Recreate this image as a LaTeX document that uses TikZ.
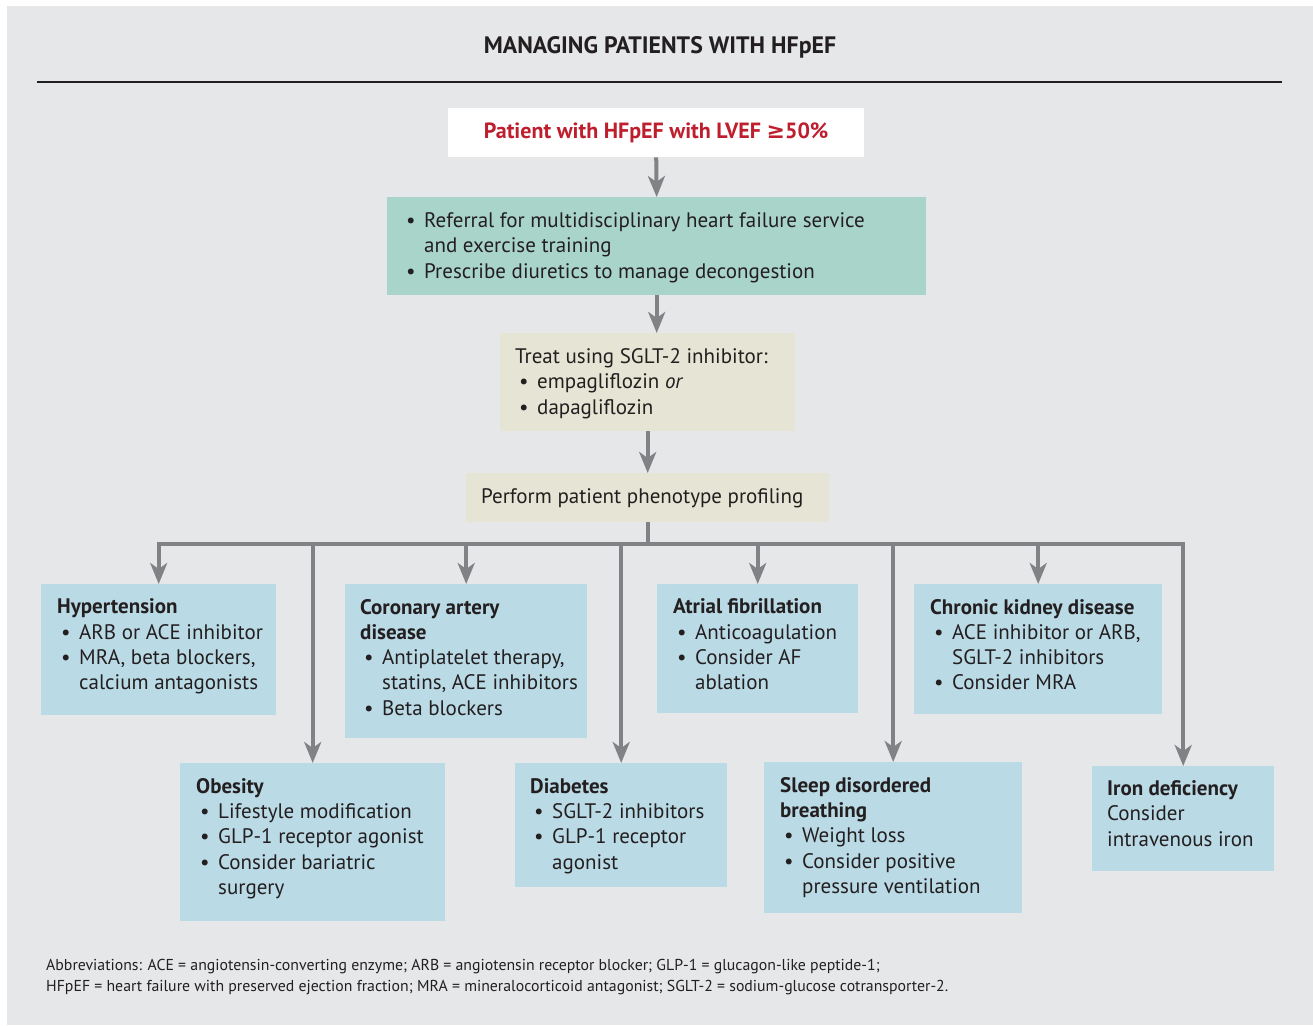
\documentclass[tikz,border=0pt]{standalone}
\usepackage{fontspec}
\setmainfont{PT Sans}
\newfontfamily\symfont{DejaVu Sans}
\usetikzlibrary{arrows.meta}

\definecolor{panelgray}{HTML}{E6E7E9}
\definecolor{boxblue}{HTML}{BADAE6}
\definecolor{boxgreen}{HTML}{A9D4CA}
\definecolor{boxbeige}{HTML}{E6E4D4}
\definecolor{hfred}{HTML}{BE1E2D}
\definecolor{inkdark}{HTML}{231F20}
\definecolor{arrowgray}{HTML}{808285}

\newcommand{\bul}{\makebox[22pt][l]{\hspace{4pt}\textbullet}}
\newcommand{\ind}{\hspace*{22pt}}

\tikzset{
  box/.style={anchor=north west, inner sep=0pt, draw=none},
  bluebox/.style={box, fill=boxblue},
  boxtext/.style={anchor=north west, inner sep=0pt, align=left, text=inkdark,
    font=\fontsize{21}{25.3}\selectfont, execute at begin node=\strut},
  conn/.style={draw=arrowgray, line width=4pt},
  arr/.style={conn, -{Stealth[length=21pt, width=17pt, inset=6pt]}}
}

\begin{document}
\begin{tikzpicture}[x=1pt, y=-1pt]
    \useasboundingbox (0,0) rectangle (1313,1025);
    \fill[white] (0,0) rectangle (1313,1025);
    \fill[panelgray] (7,6) rectangle (1313,1025);

    % Title
    \node[anchor=base, inner sep=0pt, text=inkdark, font=\bfseries\fontsize{23.8}{27}\selectfont] (title) at (660,53) {MANAGING PATIENTS WITH HFpEF};
    \draw[inkdark, line width=1.6pt] (37,82) -- (1282,82);

    % Patient
    \node[box, fill=white, minimum width=416, minimum height=49] (pat) at (448,108) {};
    \node[inner sep=0pt, text=hfred, font=\bfseries\fontsize{22}{26}\selectfont] (pat-t) at (pat.center) {Patient with HFpEF with LVEF {\symfont\bfseries ≥}50\%};

    % Referral
    \node[box, fill=boxgreen, minimum width=539, minimum height=98] (ref) at (387,197) {};
    \node[boxtext] (ref-t) at ([shift={(15,15.5)}]ref.north west) {\bul Referral for multidisciplinary heart failure service\\
      \ind and exercise training\\
      \bul Prescribe diuretics to manage decongestion};

    % SGLT-2
    \node[box, fill=boxbeige, minimum width=295, minimum height=98] (sglt) at (500,333) {};
    \node[boxtext] (sglt-t) at ([shift={(15,15.5)}]sglt.north west) {Treat using SGLT-2 inhibitor:\\
      \bul empagliflozin \emph{or}\\
      \bul dapagliflozin};

    % Phenotype
    \node[box, fill=boxbeige, minimum width=363, minimum height=49] (pheno) at (466,473) {};
    \node[boxtext] (pheno-t) at ([shift={(15,12.8)}]pheno.north west) {Perform patient phenotype profiling};

    % Phenotypes, top row
    \node[bluebox, minimum width=235, minimum height=131] (htn) at (41,584) {};
    \node[boxtext] (htn-t) at ([shift={(16,14.8)}]htn.north west) {\textbf{Hypertension}\\
      \bul ARB or ACE inhibitor\\
      \bul MRA, beta blockers,\\
      \ind calcium antagonists};

    \node[bluebox, minimum width=242, minimum height=154] (cad) at (345,584) {};
    \node[boxtext] (cad-t) at ([shift={(15,14.8)}]cad.north west) {\textbf{Coronary artery}\\
      \textbf{disease}\\
      \bul Antiplatelet therapy,\\
      \ind statins, ACE inhibitors\\
      \bul Beta blockers};

    \node[bluebox, minimum width=201, minimum height=129] (af) at (657,584) {};
    \node[boxtext] (af-t) at ([shift={(16,14.8)}]af.north west) {\textbf{Atrial fibrillation}\\
      \bul Anticoagulation\\
      \bul Consider AF\\
      \ind ablation};

    \node[bluebox, minimum width=248, minimum height=130] (ckd) at (914,584) {};
    \node[boxtext] (ckd-t) at ([shift={(16,14.8)}]ckd.north west) {\textbf{Chronic kidney disease}\\
      \bul ACE inhibitor or ARB,\\
      \ind SGLT-2 inhibitors\\
      \bul Consider MRA};

    % Phenotypes, bottom row
    \node[bluebox, minimum width=265, minimum height=158] (obe) at (180,763) {};
    \node[boxtext] (obe-t) at ([shift={(16,15)}]obe.north west) {\textbf{Obesity}\\
      \bul Lifestyle modification\\
      \bul GLP-1 receptor agonist\\
      \bul Consider bariatric\\
      \ind surgery};

    \node[bluebox, minimum width=212, minimum height=124] (dia) at (515,763) {};
    \node[boxtext] (dia-t) at ([shift={(15,15)}]dia.north west) {\textbf{Diabetes}\\
      \bul SGLT-2 inhibitors\\
      \bul GLP-1 receptor\\
      \ind agonist};

    \node[bluebox, minimum width=258, minimum height=151] (sleep) at (764,762) {};
    \node[boxtext] (sleep-t) at ([shift={(16,15)}]sleep.north west) {\textbf{Sleep disordered}\\
      \textbf{breathing}\\
      \bul Weight loss\\
      \bul Consider positive\\
      \ind pressure ventilation};

    \node[bluebox, minimum width=182, minimum height=105] (iron) at (1092,766) {};
    \node[boxtext] (iron-t) at ([shift={(15,14.5)}]iron.north west) {\textbf{Iron deficiency}\\
      Consider\\
      intravenous iron};

    % Connectors
    \draw[arr] (pat.south) -- (ref.north);
    \draw[arr] (ref.south) -- (ref.south |- sglt.north);
    \draw[arr] (sglt.south) -- (pheno.north);
    \draw[conn] (pheno.south) -- ++(0,22) coordinate (bus);
    \draw[conn, line cap=rect] (htn.north |- bus) -- (iron.north |- bus);
    \foreach \b in {htn, obe, cad, dia, af, sleep, ckd, iron}
        \draw[arr] (\b.north |- bus) -- (\b.north);

    % Abbreviations
    \node[anchor=base west, inner sep=0pt, align=left, text=inkdark, font=\fontsize{15.8}{21}\selectfont] (abbr) at (46,991) {Abbreviations: ACE = angiotensin-converting enzyme; ARB = angiotensin receptor blocker; GLP-1 = glucagon-like peptide-1;\\
      HFpEF = heart failure with preserved ejection fraction; MRA = mineralocorticoid antagonist; SGLT-2 = sodium-glucose cotransporter-2.};
\end{tikzpicture}
\end{document}
